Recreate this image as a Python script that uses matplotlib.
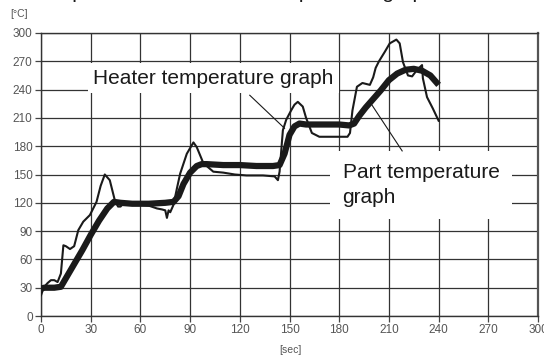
import matplotlib
matplotlib.use('Agg')
import matplotlib.pyplot as plt

plt.rcParams['font.family'] = ['Liberation Sans', 'DejaVu Sans']

# Datos: temperatura de la pieza (línea gruesa)
part_t = [0, 2, 8, 12, 15, 20, 25, 30, 35, 40, 44, 48, 55, 65, 75, 80, 83, 86, 90, 94,
          97, 100, 110, 120, 130, 140, 144, 147, 150, 153, 156, 160, 170, 180, 186, 189,
          192, 196, 200, 205, 210, 215, 220, 225, 230, 235, 240]
part_T = [29, 30, 30, 31, 40, 55, 70, 86, 101, 114, 121, 120, 119, 119, 120, 121, 127, 140, 152, 159,
          161, 161, 160, 160, 159, 159, 160, 172, 192, 201, 204, 203, 203, 203, 202, 204,
          212, 221, 229, 239, 250, 257, 261, 262, 260, 255, 245]

# Datos: temperatura del calentador (línea fina)
heat_t = [0, 1, 2, 4, 6, 8, 10, 12, 13.5, 15, 17.5, 20, 22.5, 25.5, 29.5, 33.5, 36, 38.5, 41.5,
          44.5, 46.5, 48, 50, 55, 60, 65, 70, 73, 75, 76, 77, 78, 80, 82, 84, 88, 92, 94, 98,
          104, 110, 117, 124, 134, 141, 143, 144, 146, 148, 151, 153, 155, 158, 160, 163.5,
          168, 175, 185, 186.5, 188, 190.7, 194, 198.5, 200.5, 202, 204, 207.5, 210.5, 214.5,
          216.5, 218.5, 221.5, 224, 227, 230, 230.5, 233, 236.5, 240]
heat_T = [22, 27, 31, 35, 38, 38, 36, 45, 75, 74, 71, 74, 91, 100, 107, 121, 138, 150, 144,
          123, 116, 116, 120, 119, 118, 117, 114, 113, 112, 104, 112, 110, 118, 135, 151, 172, 184, 179, 162,
          153, 152, 150, 149, 149, 148, 144, 153, 197, 208, 218, 224, 227, 222, 210, 194,
          190, 190, 190, 194, 218, 243, 247, 245, 253, 263, 270, 280, 289, 293,
          289, 269, 255, 254, 261, 266, 252, 232, 220, 207]

x_ticks = [0, 30, 60, 90, 120, 150, 180, 210, 240, 270, 300]
y_ticks = [0, 30, 60, 90, 120, 150, 180, 210, 240, 270, 300]

fig = plt.figure(figsize=(5.44, 3.57), dpi=100)
ax = fig.add_axes([0.0754, 0.1148, 0.9136, 0.7928])

ax.plot(heat_t, heat_T, color='#1a1a1a', lw=1.5, zorder=4)
ax.plot(part_t, part_T, color='#1a1a1a', lw=4.5, solid_capstyle='butt', zorder=5)

ax.set_xlim(0, 300)
ax.set_ylim(0, 300)
ax.set_xticks(x_ticks)
ax.set_yticks(y_ticks)
ax.grid(True, color='#333333', lw=0.9)
ax.set_axisbelow(True)
ax.tick_params(length=4, width=0.9, color='#444444', labelcolor='#555555',
               labelsize=8.5, pad=2)
for s in ax.spines.values():
    s.set_color('#333333')
    s.set_linewidth(1.0)
ax.spines['right'].set_linewidth(1.6)
ax.spines['right'].set_color('#555555')

# Etiquetas con fondo blanco
ax.text(31.5, 252, 'Heater temperature graph', fontsize=15, ha='left', va='center',
        color='#1a1a1a', bbox=dict(facecolor='white', edgecolor='none', pad=4), zorder=3)
ax.plot([126, 147], [234, 199], color='#1a1a1a', lw=0.8, zorder=3)

ax.text(182, 139, 'Part temperature\ngraph', fontsize=15, ha='left', va='center',
        color='#1a1a1a', linespacing=1.35, bbox=dict(facecolor='white', edgecolor='none', pad=9),
        zorder=3)
ax.plot([198.5, 218], [227, 175], color='#1a1a1a', lw=0.8, zorder=3)

fig.text(0.019, 0.962, '[°C]', fontsize=7.5, color='#555555', ha='left', va='center')
fig.text(0.533, 0.02, '[sec]', fontsize=7.5, color='#555555', ha='center', va='center')

# Título recortado arriba (solo se ven los descendentes)
fig.text(0.0, 1.005, 'Set the profile on the heater temperature graph', fontsize=15,
         color='#1a1a1a', ha='left', va='baseline')

fig.savefig('out.png', dpi=100, facecolor='white')
